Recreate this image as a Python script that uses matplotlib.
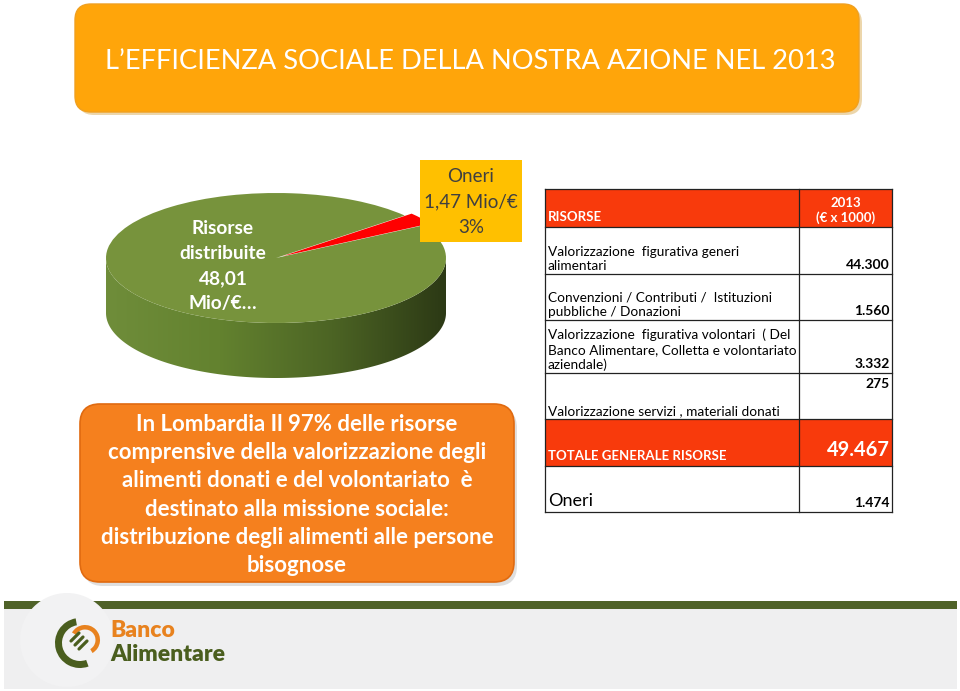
import numpy as np
import matplotlib
matplotlib.use('agg')
from matplotlib import pyplot as plt
from matplotlib.patches import FancyBboxPatch, Rectangle, Polygon, Wedge, Circle
from matplotlib.colors import LinearSegmentedColormap

plt.rcParams['font.family'] = ['Lato', 'DejaVu Sans']

# data
title = "L\u2019EFFICIENZA SOCIALE DELLA NOSTRA AZIONE NEL 2013"
pie_names = ["Risorse\ndistribuite", "Oneri"]
pie_values = [48.01, 1.47]          # Mio/€
pie_pct = [97, 3]
row_labels = ["Valorizzazione  figurativa generi\nalimentari",
              "Convenzioni / Contributi /  Istituzioni\npubbliche / Donazioni",
              "Valorizzazione  figurativa volontari  ( Del\nBanco Alimentare, Colletta e volontariato\naziendale)",
              "Valorizzazione servizi , materiali donati"]
row_values = ["44.300", "1.560", "3.332", "275"]
total_label = "TOTALE GENERALE RISORSE"
total_value = "49.467"
oneri_label = "Oneri"
oneri_value = "1.474"
note = ("In Lombardia Il 97% delle risorse\ncomprensive della valorizzazione degli\n"
        "alimenti donati e del volontariato  \u00e8\ndestinato alla missione sociale:\n"
        "distribuzione degli alimenti alle persone\nbisognose")

W, H = 960, 691
fig = plt.figure(figsize=(W / 100, H / 100), dpi=100)
ax = fig.add_axes([0, 0, 1, 1])
ax.set_xlim(0, W)
ax.set_ylim(H, 0)
ax.axis('off')

# title box
ax.add_patch(FancyBboxPatch((78, 7), 784, 108, boxstyle="round,pad=0,rounding_size=16",
                            fc='#c98a10', ec='none', alpha=0.35, zorder=1))
ax.add_patch(FancyBboxPatch((75, 4), 784, 108, boxstyle="round,pad=0,rounding_size=16",
                            fc='#FFA50A', ec='#F0A020', lw=1, zorder=2))
ax.text(470, 61, title, color='white', fontsize=19.6, ha='center', va='center', zorder=3)

# note box
ax.add_patch(FancyBboxPatch((83, 408), 434, 178, boxstyle="round,pad=0,rounding_size=20",
                            fc='#b0b0b0', ec='none', alpha=0.4, zorder=1))
ax.add_patch(FancyBboxPatch((80, 404), 434, 178, boxstyle="round,pad=0,rounding_size=20",
                            fc='#F5801E', ec='#E06A10', lw=1.2, zorder=2))
ax.text(297, 495, note, color='white', fontsize=16, fontweight='bold', ha='center', va='center',
        linespacing=1.42, zorder=3)

# pie (3d look: squashed axes + extruded side)
cx, cy, rx, ry, thick = 276, 258, 170, 65, 55
px0, px1, py0, py1 = 60, 500, 140, 400
axp = fig.add_axes([px0 / W, 1 - py1 / H, (px1 - px0) / W, (py1 - py0) / H])
total = sum(pie_values)
start = 30.1 + 360 * pie_values[1] / total
wedges, _ = axp.pie(pie_values, colors=['#77933C', '#FF0000'], startangle=start,
                    explode=[0, 0.05], radius=1.0, wedgeprops=dict(lw=0))
for w in wedges:
    w.set_zorder(5)
axp.set_aspect('auto')
axp.axis('off')

t = thick / ry
th = np.linspace(np.pi, 2 * np.pi, 200)
top_arc = np.column_stack([np.cos(th), np.sin(th)])
bot_arc = top_arc[::-1] - [0, t]
side = Polygon(np.vstack([top_arc, bot_arc]), closed=True, fc='none', ec='none')
axp.add_patch(side)
cmap = LinearSegmentedColormap.from_list('side', ['#6F8D3A', '#63822F', '#4C6424', '#2C3915'])
grad = np.linspace(0, 1, 256).reshape(1, -1)
im = axp.imshow(grad, cmap=cmap, extent=(-1, 1, -1 - t, 0), aspect='auto', zorder=2)
im.set_clip_path(side)
axp.set_xlim((px0 - cx) / rx, (px1 - cx) / rx)
axp.set_ylim((cy - py1) / ry, (cy - py0) / ry)

# pie labels, drawn by the pie axes but placed in slide pixels
fmt = lambda v: f"{v:.2f}".replace('.', ',')
axp.text(223, 266, f"{pie_names[0]}\n{fmt(pie_values[0])}\nMio/\u20ac\u2026", color='white',
         fontsize=13.8, fontweight='bold', ha='center', va='center', linespacing=1.55,
         zorder=6, transform=ax.transData)
axp.add_patch(Rectangle((420, 160), 102, 82, fc='#FFC000', ec='none', zorder=6,
                        transform=ax.transData, clip_on=False))
axp.text(471, 202, f"{pie_names[1]}\n{fmt(pie_values[1])} Mio/\u20ac\n{pie_pct[1]}%",
         color='#404040', fontsize=13.5, ha='center', va='center', linespacing=1.58,
         zorder=7, transform=ax.transData)

# table
tx0, tx1, tdiv = 545, 892, 799
ys = [189, 227, 274, 320, 373, 419, 466, 512]
red = '#F83A0C'
ax.add_patch(Rectangle((tx0, ys[0]), tx1 - tx0, ys[1] - ys[0], fc=red, ec='none', zorder=2))
ax.add_patch(Rectangle((tx0, ys[5]), tx1 - tx0, ys[6] - ys[5], fc=red, ec='none', zorder=2))
for y in ys:
    ax.plot([tx0, tx1], [y, y], color='#222222', lw=0.9, zorder=3)
ax.plot([tx0, tx0], [ys[0], ys[-1]], color='#222222', lw=0.9, zorder=3)
ax.plot([tx1, tx1], [ys[0], ys[-1]], color='#222222', lw=0.9, zorder=3)
ax.plot([tdiv, tdiv], [ys[0], ys[-1]], color='#222222', lw=0.9, zorder=3)

ax.text(548, ys[1] - 4, "RISORSE", color='white', fontsize=9.5, fontweight='bold',
        ha='left', va='bottom', zorder=4)
ax.text(846, ys[1] - 3, "2013\n(\u20ac x 1000)", color='white', fontsize=9.5, fontweight='bold',
        ha='center', va='bottom', linespacing=1.2, zorder=4)

for i, (lab, val) in enumerate(zip(row_labels, row_values)):
    y_top, y_bot = ys[i + 1], ys[i + 2]
    ax.text(548, y_bot - 2, lab, color='black', fontsize=9.8, ha='left', va='bottom',
            linespacing=1.25, zorder=4)
    if i == 3:
        ax.text(890, y_top + 5, val, color='black', fontsize=10, fontweight='bold',
                ha='right', va='top', zorder=4)
    else:
        ax.text(890, y_bot - 3, val, color='black', fontsize=10, fontweight='bold',
                ha='right', va='bottom', zorder=4)

ax.text(548, ys[6] - 4, total_label, color='white', fontsize=9.5, fontweight='bold',
        ha='left', va='bottom', zorder=4)
ax.text(890, ys[6] - 6, total_value, color='white', fontsize=14.5, fontweight='bold',
        ha='right', va='bottom', zorder=4)
ax.text(548, ys[7] - 3, oneri_label, color='black', fontsize=13, ha='left', va='bottom', zorder=4)
ax.text(890, ys[7] - 3, oneri_value, color='black', fontsize=10, fontweight='bold',
        ha='right', va='bottom', zorder=4)

# footer
ax.add_patch(Rectangle((4, 609), 953, 80, fc='#EFEFF0', ec='none', zorder=1))
ax.add_patch(Rectangle((4, 601), 953, 8, fc='#4F6228', ec='none', zorder=2))
ax.add_patch(Circle((67, 640), 47, fc='#F2F2F3', ec='none', zorder=3))
ax.add_patch(Wedge((80, 643), 25, 70, 260, width=7, fc='#4A5E1E', ec='none', zorder=4))
ax.add_patch(Wedge((85, 640), 15, -150, 60, width=4.5, fc='#E8821E', ec='none', zorder=4))
for k in range(3):
    sx, sy = 75 + 4 * k, 637 + 4 * k
    ax.plot([sx - 4, sx + 4], [sy + 4, sy - 4], color='#4A5E1E', lw=2.3,
            solid_capstyle='round', zorder=5)
ax.text(110, 637, "Banco", color='#E8821E', fontsize=16.5, fontweight='heavy', ha='left',
        va='baseline', zorder=5)
ax.text(110, 661, "Alimentare", color='#4A5E1E', fontsize=16.5, fontweight='heavy', ha='left',
        va='baseline', zorder=5)

fig.savefig('out.png', dpi=100)
